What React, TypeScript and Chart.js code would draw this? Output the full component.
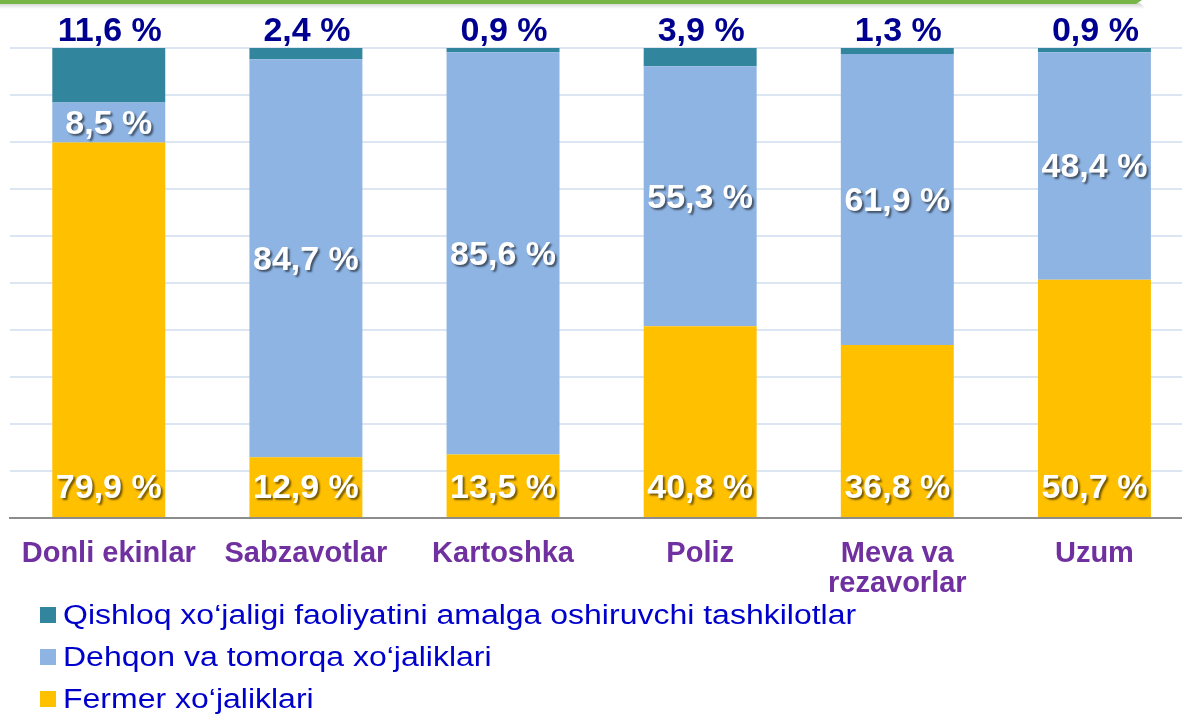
import React, { useEffect, useRef } from "react";
import { Chart, registerables } from "chart.js";

Chart.register(...registerables);

const categories: (string | string[])[] = [
  "Donli ekinlar",
  "Sabzavotlar",
  "Kartoshka",
  "Poliz",
  ["Meva va", "rezavorlar"],
  "Uzum",
];
const fermerValues = [79.9, 12.9, 13.5, 40.8, 36.8, 50.7];
const dehqonValues = [8.5, 84.7, 85.6, 55.3, 61.9, 48.4];
const tashkilotValues = [11.6, 2.4, 0.9, 3.9, 1.3, 0.9];
const seriesNames = [
  "Fermer xo‘jaliklari",
  "Dehqon va tomorqa xo‘jaliklari",
  "Qishloq xo‘jaligi faoliyatini amalga oshiruvchi tashkilotlar",
];
const seriesColors = ["#FFC000", "#8EB4E3", "#31859C"];
const yMax = 100;
const yStep = 10;

const FONT = "'Liberation Sans', Arial, sans-serif";

const fmt = (v: number) => v.toFixed(1).replace(".", ",") + " %";

const labelPlugin = {
  id: "valueLabels",
  afterDatasetsDraw(chart: any) {
    const ctx = chart.ctx;
    ctx.save();
    ctx.textAlign = "center";
    ctx.font = `bold 34px ${FONT}`;
    chart.data.datasets.forEach((ds: any, di: number) => {
      const meta = chart.getDatasetMeta(di);
      meta.data.forEach((bar: any, i: number) => {
        const p = bar.getProps(["x", "y", "base"], true);
        const text = fmt(ds.data[i]);
        ctx.save();
        if (di === 2) {
          ctx.fillStyle = "#000090";
          ctx.textBaseline = "alphabetic";
          ctx.fillText(text, p.x + 1, p.y - 7);
        } else {
          ctx.shadowColor = "rgba(0,0,0,0.55)";
          ctx.shadowOffsetX = 2;
          ctx.shadowOffsetY = 2;
          ctx.shadowBlur = 2;
          ctx.fillStyle = "#FFFFFF";
          ctx.textBaseline = "middle";
          const y = di === 1 ? (p.y + p.base) / 2 + 2 : p.base - 28;
          ctx.fillText(text, p.x, y);
        }
        ctx.restore();
      });
    });
    ctx.restore();
  },
};

const decorPlugin = {
  id: "decor",
  afterDraw(chart: any) {
    const ctx = chart.ctx;
    ctx.save();
    // top green bar with shadow
    const g = ctx.createLinearGradient(0, 3, 0, 9);
    g.addColorStop(0, "rgba(0,0,0,0.18)");
    g.addColorStop(1, "rgba(0,0,0,0)");
    ctx.fillStyle = g;
    ctx.beginPath();
    ctx.moveTo(0, 3);
    ctx.lineTo(1140, 3);
    ctx.lineTo(1146, 9);
    ctx.lineTo(0, 9);
    ctx.closePath();
    ctx.fill();
    ctx.fillStyle = "#77B547";
    ctx.beginPath();
    ctx.moveTo(0, 0);
    ctx.lineTo(1142, 0);
    ctx.lineTo(1136, 4);
    ctx.lineTo(0, 4);
    ctx.closePath();
    ctx.fill();

    // legend (reverse order: top segment first)
    const order = [2, 1, 0];
    order.forEach((di, row) => {
      const ds = chart.data.datasets[di];
      const top = 607 + row * 42;
      ctx.fillStyle = ds.backgroundColor;
      ctx.fillRect(40, top, 16, 16);
      ctx.save();
      ctx.fillStyle = "#0000CC";
      ctx.font = `27px ${FONT}`;
      ctx.textBaseline = "alphabetic";
      ctx.textAlign = "left";
      ctx.translate(63, top + 17);
      ctx.scale(1.185, 1);
      ctx.fillText(ds.label, 0, 0);
      ctx.restore();
    });
    ctx.restore();
  },
};

export default function App() {
  const ref = useRef<HTMLCanvasElement>(null);

  useEffect(() => {
    if (!ref.current) return;
    const chart = new Chart(ref.current, {
      type: "bar",
      data: {
        labels: categories,
        datasets: [
          { label: seriesNames[0], data: fermerValues, backgroundColor: seriesColors[0] },
          { label: seriesNames[1], data: dehqonValues, backgroundColor: seriesColors[1] },
          { label: seriesNames[2], data: tashkilotValues, backgroundColor: seriesColors[2] },
        ],
      },
      options: {
        responsive: false,
        animation: false,
        devicePixelRatio: 1,
        layout: { padding: { top: 48, right: 7, left: 0, bottom: 0 } },
        datasets: {
          bar: { barPercentage: 0.573, categoryPercentage: 1, borderWidth: 0 },
        } as any,
        plugins: {
          legend: { display: false },
          tooltip: { enabled: false },
        },
        scales: {
          x: {
            stacked: true,
            grid: { display: false, drawTicks: false },
            border: { display: true, color: "#8C8C8C", width: 2 },
            ticks: {
              color: "#7030A0",
              font: { family: FONT, size: 29, weight: "bold", lineHeight: 1.03 },
              padding: 21,
              maxRotation: 0,
              autoSkip: false,
            },
            afterFit: (s: any) => {
              s.height = 198;
            },
          },
          y: {
            stacked: true,
            min: 0,
            max: yMax,
            ticks: { display: false, stepSize: yStep },
            grid: { color: "#DCE6F2", lineWidth: 2, drawTicks: false },
            border: { display: false },
            afterFit: (s: any) => {
              s.width = 9;
            },
          },
        },
      },
      plugins: [labelPlugin, decorPlugin],
    });
    return () => chart.destroy();
  }, []);

  return (
    <div
      style={{
        position: "absolute",
        left: 0,
        top: 0,
        width: 1182,
        height: 716,
        overflow: "hidden",
        background: "#FFFFFF",
      }}
    >
      <canvas ref={ref} width={1200} height={716} style={{ width: 1200, height: 716, display: "block" }} />
    </div>
  );
}
